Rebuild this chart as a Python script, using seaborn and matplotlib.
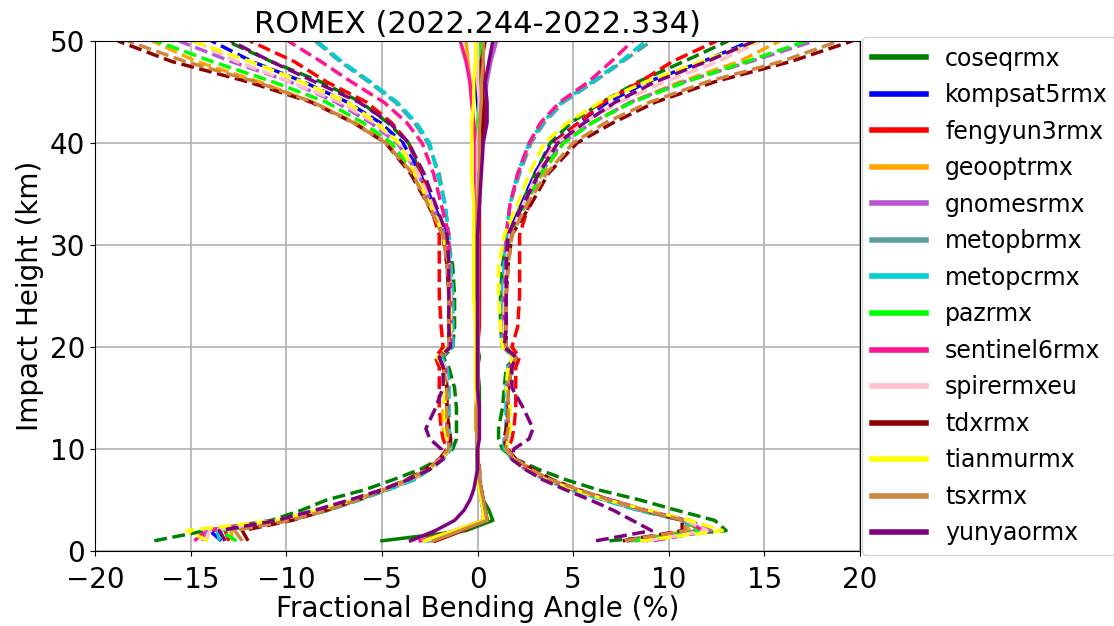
import pandas as pd
import matplotlib.pyplot as plt
import seaborn as sns
from matplotlib.lines import Line2D

# impact heights (km) of the profile levels
heights = [1, 2, 3, 4, 5, 6, 7, 8, 9, 10, 11, 12, 14, 16, 18, 19, 20, 22, 25, 28,
           31, 34, 37, 40, 42, 44, 46, 48, 50]

# mean fractional bending angle (%) and its std dev per mission
coseqrmx_mean = [-5.0, -0.6, 0.8, 0.6, 0.3, 0.2, 0.1, 0.1, 0.0, 0.0, 0.0, 0.0, 0.1, 0.1, 0.0, 0.1, 0.0, 0.0, 0.0, 0.0,
                 0.0, -0.1, 0.0, 0.1, 0.1, 0.2, 0.1, 0.0, 0.0]
coseqrmx_std = [11.9, 13.6, 11.6, 9.8, 8.2, 6.1, 4.5, 3.1, 2.0, 1.3, 1.1, 1.1, 1.2, 1.3, 1.5, 1.9, 1.3, 1.2, 1.2, 1.3,
                1.6, 2.4, 3.0, 3.7, 4.8, 6.3, 8.3, 10.8, 13.1]

kompsat5rmx_mean = [-2.8, -1.0, 0.4, 0.3, 0.2, 0.1, 0.1, 0.0, 0.0, 0.0, 0.0, 0.0, 0.0, 0.0, 0.0, 0.0, 0.0, 0.0, 0.0, 0.0,
                    0.0, 0.0, 0.0, 0.0, 0.1, 0.0, -0.1, 0.0, 0.2]
kompsat5rmx_std = [10.6, 13.0, 10.4, 8.2, 6.5, 4.9, 3.5, 2.6, 1.9, 1.5, 1.5, 1.6, 1.6, 1.6, 1.7, 2.0, 1.4, 1.4, 1.4, 1.5,
                   1.6, 2.3, 3.0, 3.9, 5.2, 6.8, 9.0, 11.8, 14.1]

fengyun3rmx_mean = [-2.2, -0.8, 0.4, 0.3, 0.2, 0.1, 0.1, 0.1, 0.0, 0.0, 0.0, 0.0, 0.0, 0.0, 0.0, 0.0, 0.0, 0.1, 0.1, 0.1,
                    0.1, 0.1, 0.1, 0.2, 0.4, 0.4, 0.3, 0.3, 0.3]
fengyun3rmx_std = [10.8, 12.4, 10.5, 8.3, 6.6, 5.0, 3.6, 2.7, 2.0, 1.6, 1.8, 1.9, 2.0, 2.0, 2.0, 2.2, 1.8, 2.0, 2.1, 2.1,
                   2.1, 2.6, 3.0, 3.8, 4.9, 6.2, 8.2, 9.9, 12.2]

geooptrmx_mean = [-2.4, -0.9, 0.5, 0.4, 0.2, 0.1, 0.1, 0.0, 0.0, 0.0, 0.0, -0.1, -0.1, 0.0, 0.0, 0.0, 0.0, 0.0, 0.0, 0.0,
                  0.0, 0.0, 0.0, -0.1, -0.2, -0.3, -0.4, -0.5, -0.6]
geooptrmx_std = [10.4, 12.0, 10.3, 8.2, 6.5, 4.9, 3.5, 2.6, 1.9, 1.5, 1.5, 1.7, 1.7, 1.6, 1.7, 2.0, 1.4, 1.4, 1.4, 1.5,
                 1.7, 2.5, 3.4, 4.6, 6.2, 8.3, 11.0, 14.2, 16.4]

gnomesrmx_mean = [-2.6, -1.0, 0.5, 0.4, 0.3, 0.2, 0.1, 0.0, 0.0, 0.0, 0.0, 0.0, 0.0, 0.0, 0.0, 0.0, 0.0, 0.0, 0.0, 0.0,
                  0.0, 0.0, 0.1, 0.1, 0.2, 0.3, 0.5, 0.7, 1.0]
gnomesrmx_std = [11.8, 13.2, 10.6, 8.4, 6.7, 5.0, 3.6, 2.6, 1.9, 1.5, 1.5, 1.6, 1.6, 1.6, 1.7, 2.0, 1.4, 1.4, 1.4, 1.5,
                 1.7, 2.4, 3.2, 4.3, 5.8, 7.7, 10.3, 13.6, 16.6]

metopbrmx_mean = [-2.5, -1.0, 0.4, 0.3, 0.2, 0.1, 0.1, 0.0, 0.0, 0.0, 0.0, 0.0, 0.0, 0.0, 0.0, 0.0, 0.0, 0.0, 0.0, 0.0,
                  0.0, 0.0, 0.1, 0.1, 0.1, 0.1, 0.2, 0.2, 0.3]
metopbrmx_std = [10.7, 12.5, 10.3, 8.1, 6.4, 4.8, 3.4, 2.5, 1.8, 1.4, 1.4, 1.5, 1.5, 1.5, 1.6, 1.9, 1.3, 1.3, 1.3, 1.4,
                 1.5, 1.7, 2.1, 2.7, 3.4, 4.4, 5.9, 7.4, 8.8]

metopcrmx_mean = [-2.6, -1.0, 0.4, 0.3, 0.2, 0.1, 0.1, 0.0, 0.0, 0.0, 0.0, 0.0, 0.0, 0.0, 0.0, 0.0, 0.0, 0.0, 0.0, 0.0,
                  0.0, 0.0, 0.0, 0.1, 0.1, 0.1, 0.2, 0.2, 0.2]
metopcrmx_std = [10.9, 12.6, 10.3, 8.1, 6.4, 4.8, 3.4, 2.5, 1.8, 1.4, 1.4, 1.5, 1.5, 1.5, 1.6, 1.9, 1.3, 1.3, 1.3, 1.4,
                 1.5, 1.7, 2.1, 2.6, 3.3, 4.3, 5.8, 7.3, 8.6]

pazrmx_mean = [-2.3, -0.9, 0.5, 0.4, 0.2, 0.1, 0.1, 0.0, 0.0, 0.0, 0.0, 0.0, 0.0, 0.0, 0.0, 0.0, 0.0, 0.0, 0.0, 0.0,
               0.0, 0.0, 0.0, 0.0, 0.0, 0.1, 0.1, 0.1, 0.2]
pazrmx_std = [10.3, 12.6, 10.4, 8.3, 6.6, 5.0, 3.6, 2.6, 1.9, 1.5, 1.5, 1.6, 1.6, 1.6, 1.8, 2.0, 1.5, 1.4, 1.4, 1.5,
              1.7, 2.5, 3.3, 4.5, 6.0, 8.0, 10.8, 14.0, 17.0]

sentinel6rmx_mean = [-3.0, -1.2, 0.3, 0.3, 0.2, 0.1, 0.0, 0.0, 0.0, 0.0, 0.0, 0.0, 0.0, 0.0, 0.0, 0.0, 0.0, 0.0, 0.0, 0.0,
                     0.0, -0.1, -0.1, -0.1, -0.2, -0.3, -0.4, -0.6, -0.9]
sentinel6rmx_std = [11.8, 13.0, 10.6, 8.5, 6.8, 5.1, 3.7, 2.6, 1.9, 1.5, 1.5, 1.6, 1.6, 1.6, 1.7, 2.0, 1.4, 1.4, 1.4, 1.5,
                    1.5, 1.8, 2.2, 2.8, 3.5, 4.6, 6.2, 7.6, 9.0]

spirermxeu_mean = [-2.7, -1.0, 0.4, 0.3, 0.2, 0.1, 0.1, 0.0, 0.0, 0.0, 0.0, 0.0, 0.0, 0.0, 0.0, 0.0, 0.0, 0.0, 0.0, 0.0,
                   0.0, 0.0, 0.0, 0.0, 0.1, 0.1, 0.0, 0.0, 0.0]
spirermxeu_std = [11.5, 13.0, 10.5, 8.3, 6.6, 5.0, 3.6, 2.6, 1.9, 1.5, 1.5, 1.6, 1.6, 1.6, 1.7, 2.0, 1.4, 1.4, 1.4, 1.5,
                  1.7, 2.4, 3.1, 4.1, 5.5, 7.3, 9.8, 12.6, 14.8]

tdxrmx_mean = [-2.2, -0.8, 0.5, 0.4, 0.3, 0.2, 0.1, 0.1, 0.0, 0.0, 0.0, 0.0, 0.0, 0.0, 0.0, 0.0, 0.0, 0.0, 0.0, 0.0,
               0.0, 0.1, 0.1, 0.2, 0.3, 0.3, 0.2, 0.2, 0.4]
tdxrmx_std = [9.8, 11.5, 10.2, 8.3, 6.6, 5.1, 3.8, 2.8, 2.0, 1.5, 1.4, 1.5, 1.6, 1.6, 1.8, 2.0, 1.5, 1.5, 1.5, 1.6,
              1.8, 2.7, 3.6, 5.0, 6.8, 9.0, 12.2, 16.2, 19.2]

tianmurmx_mean = [-2.8, -1.2, 0.3, 0.3, 0.2, 0.1, 0.0, 0.0, 0.0, 0.0, 0.0, 0.0, 0.0, -0.1, -0.1, -0.1, -0.1, -0.1, -0.2, -0.2,
                  -0.2, -0.2, -0.3, -0.3, -0.3, -0.2, -0.2, -0.1, -0.1]
tianmurmx_std = [11.3, 14.0, 10.8, 8.6, 6.6, 5.0, 3.6, 2.6, 1.9, 1.5, 1.6, 1.7, 1.7, 1.6, 1.7, 2.0, 1.4, 1.3, 1.3, 1.3,
                 1.6, 2.3, 3.0, 3.8, 5.0, 6.6, 9.0, 11.8, 14.8]

tsxrmx_mean = [-2.3, -0.9, 0.5, 0.4, 0.3, 0.2, 0.1, 0.1, 0.0, 0.0, 0.0, 0.0, 0.0, 0.0, 0.0, 0.0, 0.0, 0.0, 0.0, 0.0,
               0.0, 0.0, 0.1, 0.1, 0.1, 0.2, 0.2, 0.3, 0.3]
tsxrmx_std = [10.0, 11.8, 10.3, 8.3, 6.6, 5.1, 3.7, 2.7, 2.0, 1.5, 1.5, 1.6, 1.6, 1.6, 1.8, 2.0, 1.5, 1.5, 1.5, 1.6,
              1.8, 2.6, 3.5, 4.9, 6.6, 8.8, 11.8, 15.6, 18.6]

yunyaormx_mean = [-3.5, -2.2, -1.2, -0.7, -0.4, -0.2, -0.1, 0.0, 0.0, 0.0, 0.1, 0.1, 0.1, 0.0, 0.0, 0.0, 0.0, 0.0, 0.0, 0.0,
                  0.0, 0.1, 0.2, 0.3, 0.5, 0.5, 0.4, 0.6, 0.8]
yunyaormx_std = [9.7, 11.3, 9.3, 7.8, 6.3, 4.8, 3.5, 2.5, 1.8, 1.9, 2.6, 2.8, 2.3, 1.8, 1.8, 2.0, 1.4, 1.5, 1.5, 1.5,
                 1.6, 2.3, 3.0, 3.9, 5.1, 6.7, 8.9, 11.4, 13.7]

missions = ['coseqrmx', 'kompsat5rmx', 'fengyun3rmx', 'geooptrmx', 'gnomesrmx', 'metopbrmx', 'metopcrmx',
            'pazrmx', 'sentinel6rmx', 'spirermxeu', 'tdxrmx', 'tianmurmx', 'tsxrmx', 'yunyaormx']
colors = ['green', 'blue', 'red', 'orange', 'mediumorchid', 'cadetblue', 'darkturquoise',
          'lime', 'deeppink', 'pink', 'darkred', 'yellow', 'peru', 'purple']
means = [coseqrmx_mean, kompsat5rmx_mean, fengyun3rmx_mean, geooptrmx_mean, gnomesrmx_mean, metopbrmx_mean,
         metopcrmx_mean, pazrmx_mean, sentinel6rmx_mean, spirermxeu_mean, tdxrmx_mean, tianmurmx_mean,
         tsxrmx_mean, yunyaormx_mean]
stds = [coseqrmx_std, kompsat5rmx_std, fengyun3rmx_std, geooptrmx_std, gnomesrmx_std, metopbrmx_std,
        metopcrmx_std, pazrmx_std, sentinel6rmx_std, spirermxeu_std, tdxrmx_std, tianmurmx_std,
        tsxrmx_std, yunyaormx_std]

rows = []
for name, mean, std in zip(missions, means, stds):
    for h, m, s in zip(heights, mean, std):
        rows.append({'mission': name, 'height': h, 'kind': 'mean', 'value': m})
        rows.append({'mission': name, 'height': h, 'kind': 'low', 'value': m - s})
        rows.append({'mission': name, 'height': h, 'kind': 'high', 'value': m + s})
df = pd.DataFrame(rows)

fig, ax = plt.subplots(figsize=(11.14, 6.26), dpi=100)
fig.subplots_adjust(left=0.0853, right=0.772, top=0.9345, bottom=0.1198)

sns.lineplot(data=df, x='value', y='height', hue='mission', hue_order=missions,
             palette=dict(zip(missions, colors)), style='kind', style_order=['mean', 'low', 'high'],
             dashes={'mean': '', 'low': (3.7, 1.6), 'high': (3.7, 1.6)},
             estimator=None, sort=False, lw=2.5, legend=False, ax=ax)

ax.set_xlim(-20, 20)
ax.set_ylim(0, 50)
ax.set_xticks(range(-20, 21, 5))
ax.set_yticks(range(0, 51, 10))
ax.tick_params(labelsize=20)
ax.tick_params(axis='x', pad=7.5)
ax.grid(True, color='#b0b0b0', lw=1.2)
ax.set_title('ROMEX (2022.244-2022.334)', fontsize=22)
ax.set_xlabel('Fractional Bending Angle (%)', fontsize=20, labelpad=0.5)
ax.set_ylabel('Impact Height (km)', fontsize=20)

handles = [Line2D([0], [0], color=c, lw=4) for c in colors]
ax.legend(handles, missions, loc='center left', bbox_to_anchor=(1.0, 0.5), fontsize=17,
          handlelength=2.3, labelspacing=0.53, borderaxespad=0.1)

fig.savefig('out.png', dpi=100)
